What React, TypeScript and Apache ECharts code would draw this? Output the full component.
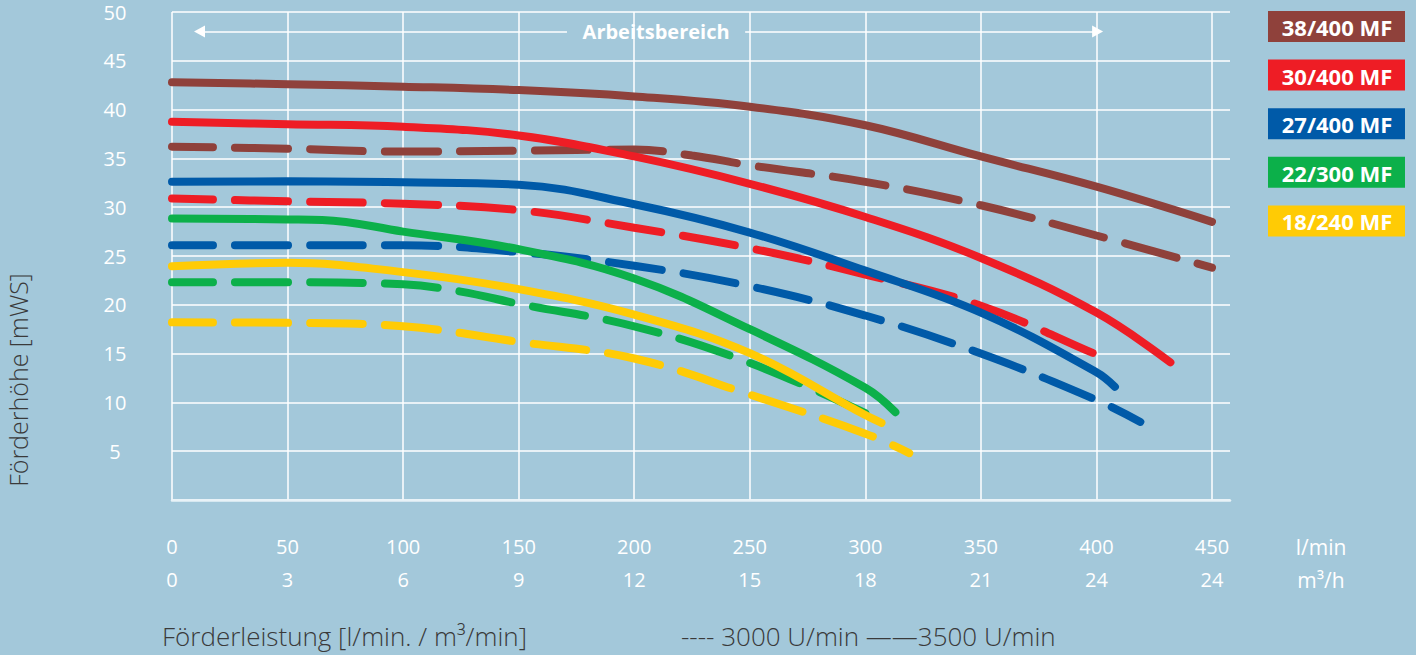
import React, { useEffect, useRef } from 'react';
import * as echarts from 'echarts';

// ---- data ----
const pumpNames = ['38/400 MF', '30/400 MF', '27/400 MF', '22/300 MF', '18/240 MF'];
const pumpColors = ['#8f413b', '#ee1d25', '#005aa8', '#0cb04a', '#ffcb05'];

// flow [l/min], head [mWS] at 3500 U/min (solid)
const h38_3500 = [[0, 42.8], [50, 42.6], [100, 42.35], [150, 42.0], [200, 41.35], [250, 40.3], [300, 38.4], [350, 35.2], [400, 32.1], [450, 28.5]];
const h30_3500 = [[0, 38.75], [50, 38.5], [100, 38.25], [150, 37.35], [200, 35.2], [250, 32.4], [300, 29.0], [350, 24.8], [400, 19.2], [432, 14.1]];
const h27_3500 = [[0, 32.6], [50, 32.65], [100, 32.55], [150, 32.3], [200, 30.3], [250, 27.4], [300, 23.5], [350, 19.2], [400, 13.1], [408, 11.6]];
const h22_3500 = [[0, 28.85], [50, 28.75], [65, 28.7], [100, 27.5], [150, 25.7], [200, 22.7], [250, 17.5], [300, 11.5], [313, 9.0]];
const h18_3500 = [[0, 23.95], [50, 24.3], [100, 23.35], [150, 21.6], [200, 19.0], [250, 15.05], [300, 8.7], [307, 7.9]];

// flow [l/min], head [mWS] at 3000 U/min (dashed)
const h38_3000 = [[0, 36.2], [50, 36.0], [100, 35.7], [150, 35.8], [200, 35.9], [225, 35.3], [250, 34.3], [300, 32.6], [350, 30.2], [400, 27.1], [450, 23.8]];
const h30_3000 = [[0, 30.9], [50, 30.6], [100, 30.35], [150, 29.7], [200, 27.9], [250, 25.8], [300, 23.1], [350, 19.9], [400, 14.9], [407, 14.2]];
const h27_3000 = [[0, 26.1], [50, 26.1], [100, 26.1], [150, 25.4], [200, 24.0], [250, 21.9], [300, 18.9], [350, 15.0], [400, 10.25], [419, 8.0]];
const h22_3000 = [[0, 22.3], [50, 22.3], [100, 22.1], [125, 21.35], [150, 20.1], [200, 17.8], [250, 14.05], [300, 8.9]];
const h18_3000 = [[0, 18.2], [50, 18.15], [100, 17.8], [150, 16.2], [200, 14.5], [250, 10.8], [300, 6.8], [319, 4.8]];

const solidData = [h38_3500, h30_3500, h27_3500, h22_3500, h18_3500];
const dashedData = [h38_3000, h30_3000, h27_3000, h22_3000, h18_3000];

const flowTicks = [0, 50, 100, 150, 200, 250, 300, 350, 400, 450];
const flowLabelsLmin = ['0', '50', '100', '150', '200', '250', '300', '350', '400', '450'];
const flowLabelsM3h = ['0', '3', '6', '9', '12', '15', '18', '21', '24', '24'];
const headMin = 0;
const headMax = 50;
const headStep = 5;

const workRangeStart = 11.9;
const workRangeEnd = 400.5;
const workRangeGapStart = 170.9;
const workRangeGapEnd = 248;
const workRangeHead = 48;
const workRangeLabel = 'Arbeitsbereich';

const yTitle = 'Förderhöhe [mWS]';
const xTitle = 'Förderleistung [l/min. / m³/min]';
const speedNote = '---- 3000 U/min ——3500 U/min';
const unitLmin = 'l/min';
const unitM3h = 'm³/h';

const FONT = '"Open Sans", "Noto Sans", sans-serif';
const BG = '#a3c8da';

export default function App() {
  const ref = useRef<HTMLDivElement>(null);

  useEffect(() => {
    if (!ref.current) return;
    const chart = echarts.init(ref.current, null, { renderer: 'svg' });

    const dashedSeries = dashedData.map((d, i) => ({
      name: pumpNames[i] + ' 3000 U/min',
      type: 'line',
      xAxisIndex: 1,
      yAxisIndex: 1,
      data: d,
      smooth: 0.4,
      showSymbol: false,
      symbol: 'none',
      z: 3,
      lineStyle: { color: pumpColors[i], width: 8, type: [53, 22], dashOffset: 12, cap: 'round' },
    }));
    const solidSeries = solidData.map((d, i) => ({
      name: pumpNames[i] + ' 3500 U/min',
      type: 'line',
      xAxisIndex: 1,
      yAxisIndex: 1,
      data: d,
      smooth: 0.4,
      showSymbol: false,
      symbol: 'none',
      z: 4,
      lineStyle: { color: pumpColors[i], width: 8, type: 'solid', cap: 'round' },
    }));

    const rangeSeries = {
      name: 'range',
      type: 'line',
      xAxisIndex: 1,
      yAxisIndex: 1,
      data: [],
      silent: true,
      markLine: {
        z: 6,
        silent: true,
        symbolSize: [12, 11],
        label: { show: false },
        lineStyle: { color: '#ffffff', width: 1.5, type: 'solid' },
        data: [
          [
            { coord: [workRangeStart, workRangeHead], symbol: 'triangle' },
            { coord: [workRangeGapStart, workRangeHead], symbol: 'none' },
          ],
          [
            { coord: [workRangeGapEnd, workRangeHead], symbol: 'none' },
            { coord: [workRangeEnd, workRangeHead], symbol: 'triangle' },
          ],
        ],
      },
      markPoint: {
        z: 6,
        silent: true,
        symbol: 'rect',
        symbolSize: 1,
        itemStyle: { color: 'rgba(0,0,0,0)' },
        label: {
          show: true,
          position: 'inside',
          formatter: workRangeLabel,
          color: '#ffffff',
          fontFamily: FONT,
          fontWeight: 'bold',
          fontSize: 20,
        },
        data: [{ coord: [(workRangeGapStart + workRangeGapEnd) / 2, workRangeHead] }],
      },
    };

    const legendGraphics: any[] = [];
    pumpNames.forEach((n, i) => {
      const top = 11 + i * 48.6;
      legendGraphics.push({
        type: 'rect',
        left: 1268,
        top,
        shape: { width: 137, height: 31 },
        style: { fill: pumpColors[i] },
        silent: true,
      });
      legendGraphics.push({
        type: 'text',
        x: 1337,
        y: top + 16,
        style: {
          text: n,
          fill: '#ffffff',
          font: `bold 22px ${FONT}`,
          textAlign: 'center',
          textVerticalAlign: 'middle',
        },
        silent: true,
      });
    });

    const option: any = {
      animation: false,
      backgroundColor: BG,
      grid: [
        // background grid (no series): horizontal lines run a bit past the last flow tick
        { show: false, borderWidth: 0, left: 172, top: 12, right: 186, bottom: 155, containLabel: false },
        // data grid
        { show: false, borderWidth: 0, left: 172, top: 12, right: 204, bottom: 155, containLabel: false },
      ],
      xAxis: [
        {
          gridIndex: 0,
          type: 'value',
          min: 0,
          max: 1,
          axisLine: { show: true, lineStyle: { color: '#e8f2f7', width: 2.5 } },
          axisTick: { show: false },
          axisLabel: { show: false },
          splitLine: { show: false },
        },
        {
          gridIndex: 1,
          type: 'value',
          min: flowTicks[0],
          max: flowTicks[flowTicks.length - 1],
          interval: 50,
          axisLine: { show: false },
          axisTick: { show: false },
          splitLine: { show: true, lineStyle: { color: '#ffffff', width: 1.5 } },
          axisLabel: {
            formatter: (v: number) => {
              const i = flowTicks.indexOf(v);
              return i < 0 ? '' : `${flowLabelsLmin[i]}\n${flowLabelsM3h[i]}`;
            },
            color: '#ffffff',
            fontFamily: FONT,
            fontSize: 20,
            lineHeight: 33,
            margin: 30,
          },
        },
      ],
      yAxis: [
        {
          gridIndex: 0,
          type: 'value',
          min: headMin,
          max: headMax,
          interval: headStep,
          axisLine: { show: false },
          axisTick: { show: false },
          splitLine: { show: true, lineStyle: { color: '#ffffff', width: 1.5 } },
          axisLabel: {
            formatter: (v: number) => (v === 0 ? '' : String(v)),
            color: '#ffffff',
            fontFamily: FONT,
            fontSize: 20,
            margin: 57,
            align: 'center',
            padding: [8, 0, 0, 0],
          },
        },
        {
          gridIndex: 1,
          type: 'value',
          min: headMin,
          max: headMax,
          interval: headStep,
          show: false,
        },
      ],
      series: [...dashedSeries, ...solidSeries, rangeSeries],
      graphic: [
        ...legendGraphics,
        {
          type: 'text',
          x: 18,
          y: 380,
          rotation: Math.PI / 2,
          style: {
            text: yTitle,
            fill: '#3a3a3a',
            font: `300 25px ${FONT}`,
            textAlign: 'center',
            textVerticalAlign: 'middle',
          },
          silent: true,
        },
        {
          type: 'text',
          x: 162,
          y: 636,
          style: {
            text: xTitle,
            fill: '#3a3a3a',
            font: `300 26px ${FONT}`,
            textAlign: 'left',
            textVerticalAlign: 'middle',
          },
          silent: true,
        },
        {
          type: 'text',
          x: 681,
          y: 636,
          style: {
            text: speedNote,
            fill: '#3a3a3a',
            font: `300 26px ${FONT}`,
            textAlign: 'left',
            textVerticalAlign: 'middle',
          },
          silent: true,
        },
        {
          type: 'text',
          x: 1321,
          y: 547,
          style: {
            text: unitLmin,
            fill: '#ffffff',
            font: `21px ${FONT}`,
            textAlign: 'center',
            textVerticalAlign: 'middle',
          },
          silent: true,
        },
        {
          type: 'text',
          x: 1321,
          y: 580,
          style: {
            text: unitM3h,
            fill: '#ffffff',
            font: `21px ${FONT}`,
            textAlign: 'center',
            textVerticalAlign: 'middle',
          },
          silent: true,
        },
      ],
    };

    chart.setOption(option);
    return () => chart.dispose();
  }, []);

  return (
    <div
      ref={ref}
      style={{ position: 'fixed', left: 0, top: 0, width: 1416, height: 655, background: BG }}
    />
  );
}
